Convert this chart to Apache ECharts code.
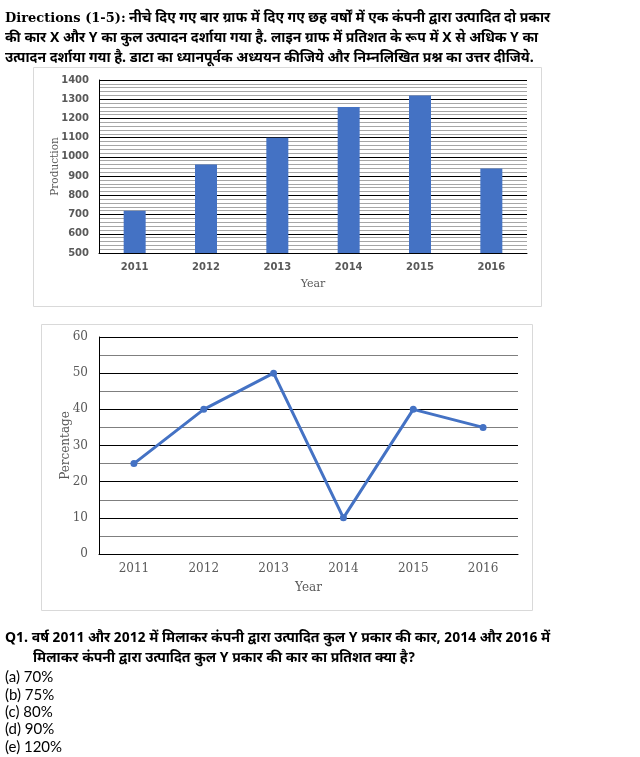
<!DOCTYPE html>
<html><head><meta charset="utf-8">
<script src="https://cdn.jsdelivr.net/npm/echarts@6/dist/echarts.min.js"></script>
<style>html,body{margin:0;padding:0;background:#fff}#c{width:640px;height:757px}</style>
</head><body><div id="c"></div>
<script>
const years = ['2011','2012','2013','2014','2015','2016'];
const production = [720, 960, 1100, 1260, 1320, 940];
const percentY = [25, 40, 50, 10, 40, 35];
const prodTicks = {min: 500, max: 1400, interval: 100};
const pctTicks = {min: 0, max: 60, interval: 10};
const directionLines = [
  'नीचे दिए गए बार ग्राफ में दिए गए छह वर्षों में एक कंपनी द्वारा उत्पादित दो प्रकार',
  'की कार X और Y का कुल उत्पादन दर्शाया गया है. लाइन ग्राफ में प्रतिशत के रूप में X से अधिक Y का',
  'उत्पादन दर्शाया गया है. डाटा का ध्यानपूर्वक अध्ययन कीजिये और निम्नलिखित प्रश्न का उत्तर दीजिये.'
];
const questionLines = [
  'Q1. वर्ष 2011 और 2012 में मिलाकर कंपनी द्वारा उत्पादित कुल Y प्रकार की कार, 2014 और 2016 में',
  'मिलाकर कंपनी द्वारा उत्पादित कुल Y प्रकार की कार का प्रतिशत क्या है?'
];
const options = ['(a) 70%', '(b) 75%', '(c) 80%', '(d) 90%', '(e) 120%'];

const hindiFont = '"Noto Sans Devanagari","Lohit Devanagari","Noto Sans",sans-serif';
const serif = '"DejaVu Serif","Liberation Serif",serif';
const gray = '#595959';

const graphics = [];
graphics.push({type:'rect', shape:{x:33.5,y:67.5,width:508,height:239}, style:{fill:'none',stroke:'#d9d9d9',lineWidth:1}, z:-1});
graphics.push({type:'rect', shape:{x:41.5,y:324.5,width:491,height:286}, style:{fill:'none',stroke:'#d9d9d9',lineWidth:1}, z:-1});
directionLines.forEach((t,i)=>{
  graphics.push({type:'text', left:5, top: 12+i*20, style:{
    text: i===0 ? '{a|Directions (1-5):} {b|'+t+'}' : '{b|'+t+'}',
    rich:{a:{fontFamily:serif,fontWeight:'bold',fontSize:13,fill:'#000'},
          b:{fontFamily:hindiFont,fontWeight:'bold',fontSize:14,fill:'#000'}}
  }});
});
questionLines.forEach((t,i)=>{
  graphics.push({type:'text', left: i===0?5:33, top: 632+i*20, style:{
    text:t, fontFamily:hindiFont, fontWeight:'bold', fontSize:14, fill:'#000'}});
});
options.forEach((t,i)=>{
  graphics.push({type:'text', left:5, top: 670+i*17.3, style:{
    text:t, fontFamily:'Lato,"Open Sans",sans-serif', fontSize:15, fill:'#000'}});
});

const plain = v => String(v);

const chart = echarts.init(document.getElementById('c'));
chart.setOption({
  animation:false,
  graphic: graphics,
  grid:[
    {left:99, top:80, width:428, height:173},
    {left:99, top:337, width:419, height:217}
  ],
  xAxis:[
    {gridIndex:0, type:'category', data:years, axisTick:{show:false},
     axisLine:{lineStyle:{color:'#000',width:1}},
     axisLabel:{color:gray, fontFamily:'"DejaVu Sans",sans-serif', fontWeight:'bold', fontSize:10, margin:9},
     name:'Year', nameLocation:'middle', nameGap:26,
     nameTextStyle:{color:gray, fontFamily:serif, fontSize:11}},
    {gridIndex:1, type:'category', data:years, axisTick:{show:false},
     axisLine:{lineStyle:{color:'#000',width:1}},
     axisLabel:{color:gray, fontFamily:serif, fontSize:12, margin:9},
     name:'Year', nameLocation:'middle', nameGap:28,
     nameTextStyle:{color:gray, fontFamily:serif, fontSize:12}}
  ],
  yAxis:[
    {gridIndex:0, type:'value', min:prodTicks.min, max:prodTicks.max, interval:prodTicks.interval,
     axisLine:{show:true, lineStyle:{color:'#000'}}, axisTick:{show:false},
     axisLabel:{color:gray, fontFamily:'"DejaVu Sans",sans-serif', fontWeight:'bold', fontSize:10, margin:10, formatter:plain},
     splitLine:{lineStyle:{color:'#000',width:1}},
     minorTick:{show:false, splitNumber:5},
     minorSplitLine:{show:true, lineStyle:{color:'#a6a6a6',width:1}},
     name:'Production', nameLocation:'middle', nameGap:38, nameMoveOverlap:false,
     nameTextStyle:{color:gray, fontFamily:serif, fontSize:10.5}},
    {gridIndex:1, type:'value', min:pctTicks.min, max:pctTicks.max, interval:pctTicks.interval,
     axisLine:{show:true, lineStyle:{color:'#000'}}, axisTick:{show:false},
     axisLabel:{color:gray, fontFamily:serif, fontSize:12, margin:11, formatter:plain},
     splitLine:{lineStyle:{color:'#000',width:1}},
     minorTick:{show:false, splitNumber:2},
     minorSplitLine:{show:true, lineStyle:{color:'#7f7f7f',width:1}},
     name:'Percentage', nameLocation:'middle', nameGap:27, nameMoveOverlap:false,
     nameTextStyle:{color:gray, fontFamily:serif, fontSize:12}}
  ],
  series:[
    {type:'bar', xAxisIndex:0, yAxisIndex:0, data:production, barWidth:22,
     itemStyle:{color:'#4472C4'}},
    {type:'line', xAxisIndex:1, yAxisIndex:1, data:percentY,
     lineStyle:{color:'#4472C4', width:3}, itemStyle:{color:'#4472C4'},
     symbol:'circle', symbolSize:7, showSymbol:true}
  ]
});
</script></body></html>
